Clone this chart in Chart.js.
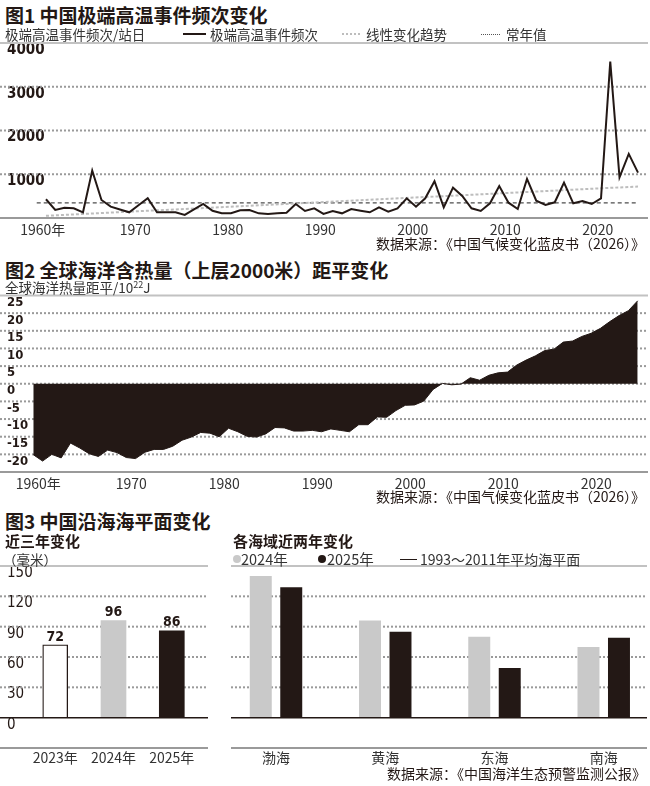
<!DOCTYPE html>
<html lang="zh-CN">
<head>
<meta charset="utf-8">
<title>中国气候变化</title>
<script src="https://cdn.jsdelivr.net/npm/chart.js@4.4.1/dist/chart.umd.min.js"></script>
<style>
  body { margin: 0; background: #fff; }
  #page { position: relative; width: 650px; height: 786px; overflow: hidden;
          font-family: 'Noto Sans CJK SC', 'Noto Sans', sans-serif; color: #231815; }
  #page canvas { position: absolute; }
  .t { position: absolute; white-space: nowrap; line-height: 20px; }
  .title { font-size: 19px; font-weight: bold; left: 5px; }
  .sub { font-size: 13.5px; color: #333; }
  .head { font-size: 15px; font-weight: bold; }
  .src { font-size: 14px; right: 5px; }
  .key { position: absolute; height: 0; }
  .dot { position: absolute; width: 8px; height: 8px; border-radius: 50%; }
  sup { font-size: 9px; line-height: 0; }
</style>
</head>
<body>
<div id="page">
  <canvas id="heatChart" width="650" height="225" style="left:0;top:30px"></canvas>
  <canvas id="oceanChart" width="650" height="205" style="left:0;top:285px"></canvas>
  <canvas id="seaChart" width="208" height="215" style="left:0;top:556px"></canvas>
  <canvas id="regionChart" width="416" height="215" style="left:231px;top:556px"></canvas>

  <!-- 图1 -->
  <div class="t title" style="top:5px">图1 中国极端高温事件频次变化</div>
  <div class="t sub" style="left:5px;top:24px">极端高温事件频次/站日</div>
  <div class="key" style="left:183px;top:33px;width:23px;border-top:2px solid #231815"></div>
  <div class="t sub" style="left:210px;top:24px">极端高温事件频次</div>
  <div class="key" style="left:342px;top:33px;width:18px;border-top:2px dotted #bdbdbd"></div>
  <div class="t sub" style="left:366px;top:24px">线性变化趋势</div>
  <div class="key" style="left:481px;top:34px;width:19px;border-top:1.5px dotted #555"></div>
  <div class="t sub" style="left:506px;top:24px">常年值</div>
  <div class="t src" style="top:233px">数据来源：《中国气候变化蓝皮书（2026）》</div>

  <!-- 图2 -->
  <div class="t title" style="top:260px">图2 全球海洋含热量（上层2000米）距平变化</div>
  <div class="t sub" style="left:5px;top:277px">全球海洋热量距平/10<sup>22</sup>J</div>
  <div class="t src" style="top:486px">数据来源：《中国气候变化蓝皮书（2026）》</div>

  <!-- 图3 -->
  <div class="t title" style="top:511px">图3 中国沿海海平面变化</div>
  <div class="t head" style="left:5px;top:531px">近三年变化</div>
  <div class="t sub" style="left:3px;top:549px">（毫米）</div>
  <div class="t head" style="left:233px;top:531px">各海域近两年变化</div>
  <div class="dot" style="left:233px;top:555px;background:#c9c9c9"></div>
  <div class="t sub" style="left:241px;top:549px;font-size:14.5px">2024年</div>
  <div class="dot" style="left:318px;top:555px;background:#231815"></div>
  <div class="t sub" style="left:327px;top:549px;font-size:14.5px">2025年</div>
  <div class="key" style="left:400px;top:559px;width:17px;border-top:1px solid #231815"></div>
  <div class="t sub" style="left:420px;top:549px;font-size:14px">1993～2011年平均海平面</div>
  <div class="t src" style="top:763px;right:4px">数据来源：《中国海洋生态预警监测公报》</div>
</div>

<script>
// ---------------------------------------------------------------
// 数据
// ---------------------------------------------------------------

// 图1：极端高温事件频次（站日），1961—2025
const heatStartYear = 1961;
const heatEvents = [
    428, 183, 236, 221, 130, 1083, 412, 260, 195, 130,
    290, 450, 130, 130, 130, 70, 195, 320, 165, 107,
    107, 175, 183, 107, 92, 107, 122, 320, 160, 221,
    92, 160, 107, 206, 167, 130, 244, 145, 221, 450,
    260, 450, 840, 244, 694, 503, 221, 160, 336, 732,
    350, 206, 892, 396, 297, 359, 808, 336, 389, 320,
    450, 3577, 931, 1465, 1037
];
const trendYears = [1961, 2025];
const trendValues = [50, 720];
const normalYears = [1960, 2025];
const normalValue = 345;
const heatTicks = [0, 1000, 2000, 3000, 4000];

// 图2：全球海洋含热量距平（10^22 J），1960—2025
const oceanStartYear = 1960;
const oceanHeat = [
    -20.1, -21.9, -20.0, -21.0, -16.8, -18.2, -19.8, -20.6, -18.8, -19.5,
    -20.9, -21.2, -19.4, -18.6, -18.6, -17.7, -16.0, -15.1, -13.8, -14.0,
    -15.0, -12.6, -13.6, -14.9, -15.1, -14.2, -12.4, -12.5, -13.4, -13.4,
    -13.2, -13.6, -12.8, -13.2, -13.6, -11.6, -11.6, -9.4, -9.5, -7.6,
    -6.1, -6.0, -4.9, -1.6, 0.1, -0.3, -0.1, 1.7, 1.0, 2.4,
    3.1, 3.3, 5.3, 6.7, 7.9, 9.4, 9.8, 11.8, 12.1, 13.4,
    14.3, 15.7, 17.6, 19.3, 20.7, 23.5
];
const oceanTicks = [-25, -20, -15, -10, -5, 0, 5, 10, 15, 20, 25];

// 年代刻度
const decadeTicks = [1960, 1970, 1980, 1990, 2000, 2010, 2020];

// 图3：沿海海平面（毫米）
const seaYears = ['2023年', '2024年', '2025年'];
const seaRise = [72, 96, 86];
const regions = ['渤海', '黄海', '东海', '南海'];
const region2024 = [140, 96, 80, 70];
const region2025 = [129, 85, 49, 79];
const seaTicks = [-30, 0, 30, 60, 90, 120, 150];

// ---------------------------------------------------------------
// 样式
// ---------------------------------------------------------------
const INK = '#231815';
const GRAY_BAR = '#c9c9c9';
const GRID = '#9a9a9a';
const TOP_RULE = '#c2c2c2';
const BASE_RULE = '#9a9a9a';
const CJK = "'Noto Sans CJK SC', 'Noto Sans', sans-serif";
const NARROW = "'Liberation Sans Narrow', 'DejaVu Sans Condensed', sans-serif";
const COND = "'DejaVu Sans Condensed', 'Liberation Sans Narrow', sans-serif";

// 横线：点线网格画在数据下面，实线（顶线/底线/零线）画在上面
function strokeRule(chart, value, color, width, dash) {
    const yScale = chart.scales.y;
    const area = chart.chartArea;
    const ctx = chart.ctx;
    const py = yScale.getPixelForValue(value);
    ctx.save();
    ctx.strokeStyle = color;
    ctx.lineWidth = width;
    ctx.setLineDash(dash);
    ctx.beginPath();
    ctx.moveTo(area.left, py);
    ctx.lineTo(area.right, py);
    ctx.stroke();
    ctx.restore();
}

const rulesPlugin = {
    id: 'rules',
    beforeDatasetsDraw(chart, args, opts) {
        const solid = (opts.solid || []).map(l => l.value);
        chart.scales.y.ticks.forEach(t => {
            if (!solid.includes(t.value)) strokeRule(chart, t.value, GRID, 2, [2, 2]);
        });
    },
    afterDatasetsDraw(chart, args, opts) {
        (opts.solid || []).forEach(l => strokeRule(chart, l.value, l.color, l.width, []));
    }
};

// 柱顶数值
const barValuesPlugin = {
    id: 'barValues',
    afterDatasetsDraw(chart, args, opts) {
        const ctx = chart.ctx;
        chart.data.datasets.forEach((ds, i) => {
            chart.getDatasetMeta(i).data.forEach((bar, j) => {
                ctx.save();
                ctx.font = opts.font;
                ctx.fillStyle = INK;
                ctx.textAlign = 'center';
                ctx.textBaseline = 'bottom';
                ctx.fillText(String(ds.data[j].y), bar.x, bar.y - 1);
                ctx.restore();
            });
        });
    }
};

function toPoints(startYear, values) {
    return values.map((v, i) => ({ x: startYear + i, y: v }));
}

function yAxis(min, max, ticks, fontSpec, hideValues) {
    return {
        min: min,
        max: max,
        afterBuildTicks: s => { s.ticks = ticks.map(v => ({ value: v })); },
        afterFit: s => { s.width = 0; s.paddingTop = 0; s.paddingBottom = 0; },
        border: { display: false },
        grid: { display: false },
        ticks: {
            autoSkip: false,
            mirror: true,
            padding: 7,
            labelOffset: 7,
            color: INK,
            font: fontSpec,
            callback: v => hideValues.includes(v) ? '' : String(v)
        }
    };
}

function yearAxis(min, max, height, padding, offset) {
    return {
        type: 'linear',
        offset: false,
        min: min,
        max: max,
        afterBuildTicks: s => { s.ticks = decadeTicks.map(v => ({ value: v })); },
        afterFit: s => { s.height = height; s.paddingLeft = 0; s.paddingRight = 0; },
        grid: { display: false, drawTicks: false },
        border: { display: false },
        ticks: {
            autoSkip: false,
            maxRotation: 0,
            padding: padding,
            labelOffset: offset,
            color: '#333',
            font: { family: CJK, size: 14 },
            callback: v => v === 1960 ? '1960年' : String(v)
        }
    };
}

function indexAxis(min, max, labels, height) {
    return {
        type: 'linear',
        offset: false,
        min: min,
        max: max,
        afterBuildTicks: s => { s.ticks = labels.map((l, i) => ({ value: i })); },
        afterFit: s => { s.height = height; s.paddingLeft = 0; s.paddingRight = 0; },
        grid: { display: false, drawTicks: false },
        border: { display: false },
        ticks: {
            autoSkip: false,
            maxRotation: 0,
            padding: 1,
            color: '#333',
            font: { family: CJK, size: 14 },
            callback: v => labels[v] || ''
        }
    };
}

const baseOptions = {
    responsive: false,
    animation: false,
    events: []
};

// ---------------------------------------------------------------
// 图1 极端高温事件频次
// ---------------------------------------------------------------
new Chart(document.getElementById('heatChart'), {
    type: 'line',
    data: {
        datasets: [
            {
                label: '极端高温事件频次',
                data: toPoints(heatStartYear, heatEvents),
                borderColor: INK,
                borderWidth: 2,
                pointRadius: 0,
                tension: 0
            },
            {
                label: '线性变化趋势',
                data: trendYears.map((yr, i) => ({ x: yr, y: trendValues[i] })),
                borderColor: '#bdbdbd',
                borderWidth: 2,
                borderDash: [3, 2],
                pointRadius: 0
            },
            {
                label: '常年值',
                data: normalYears.map(yr => ({ x: yr, y: normalValue })),
                borderColor: '#4d4d4d',
                borderWidth: 1.3,
                borderDash: [4, 3],
                pointRadius: 0
            }
        ]
    },
    options: {
        ...baseOptions,
        layout: { padding: { top: 13, right: 2, left: 0, bottom: 0 } },
        plugins: {
            legend: { display: false },
            tooltip: { enabled: false },
            rules: { solid: [
                { value: 4000, color: TOP_RULE, width: 2 },
                { value: 0, color: BASE_RULE, width: 2 }
            ] }
        },
        scales: {
            x: yearAxis(1956.03, 2026.08, 37, 3, 6),
            y: yAxis(0, 4000, heatTicks, { family: NARROW, size: 15, weight: 'bold' }, [0])
        }
    },
    plugins: [rulesPlugin]
});

// ---------------------------------------------------------------
// 图2 全球海洋含热量距平
// ---------------------------------------------------------------
new Chart(document.getElementById('oceanChart'), {
    type: 'line',
    data: {
        datasets: [{
            label: '全球海洋热量距平',
            data: toPoints(oceanStartYear, oceanHeat),
            borderColor: INK,
            backgroundColor: INK,
            borderWidth: 1,
            fill: 'origin',
            pointRadius: 0,
            tension: 0
        }]
    },
    options: {
        ...baseOptions,
        layout: { padding: { top: 10.5, right: 2, left: 0, bottom: 0 } },
        plugins: {
            legend: { display: false },
            tooltip: { enabled: false },
            rules: { solid: [
                { value: 25, color: TOP_RULE, width: 2 },
                { value: -25, color: BASE_RULE, width: 2 }
            ] }
        },
        scales: {
            x: yearAxis(1956.42, 2026.11, 18, 3, 5),
            y: yAxis(-25, 25, oceanTicks, { family: COND, size: 13, weight: 'bold' }, [-25])
        }
    },
    plugins: [rulesPlugin]
});

// ---------------------------------------------------------------
// 图3 沿海海平面
// ---------------------------------------------------------------
const seaRules = [
    { value: 150, color: TOP_RULE, width: 2 },
    { value: -30, color: BASE_RULE, width: 2 },
    { value: 0, color: INK, width: 1.5 }
];

new Chart(document.getElementById('seaChart'), {
    type: 'bar',
    data: {
        datasets: [{
            label: '近三年变化',
            data: seaRise.map((v, i) => ({ x: i, y: v })),
            backgroundColor: ['#ffffff', GRAY_BAR, INK],
            borderColor: [INK, GRAY_BAR, INK],
            borderWidth: [1.3, 0, 0],
            barThickness: 25
        }]
    },
    options: {
        ...baseOptions,
        layout: { padding: { top: 10, right: 0, left: 0, bottom: 0 } },
        plugins: {
            legend: { display: false },
            tooltip: { enabled: false },
            rules: { solid: seaRules },
            barValues: { font: "bold 14px 'DejaVu Sans Condensed', sans-serif" }
        },
        scales: {
            x: indexAxis(-0.947, 2.621, seaYears, 23),
            y: yAxis(-30, 150, seaTicks, { family: NARROW, size: 15 }, [-30])
        }
    },
    plugins: [rulesPlugin, barValuesPlugin]
});

new Chart(document.getElementById('regionChart'), {
    type: 'bar',
    data: {
        datasets: [
            {
                label: '2024年',
                data: region2024.map((v, i) => ({ x: i, y: v })),
                backgroundColor: GRAY_BAR
            },
            {
                label: '2025年',
                data: region2025.map((v, i) => ({ x: i, y: v })),
                backgroundColor: INK
            }
        ]
    },
    options: {
        ...baseOptions,
        categoryPercentage: 0.558,
        barPercentage: 0.721,
        layout: { padding: { top: 10, right: 0, left: 0, bottom: 0 } },
        plugins: {
            legend: { display: false },
            tooltip: { enabled: false },
            rules: { solid: seaRules }
        },
        scales: {
            x: indexAxis(-0.412, 3.396, regions, 23),
            y: yAxis(-30, 150, seaTicks, { family: NARROW, size: 15 }, seaTicks)
        }
    },
    plugins: [rulesPlugin]
});
</script>
</body>
</html>
